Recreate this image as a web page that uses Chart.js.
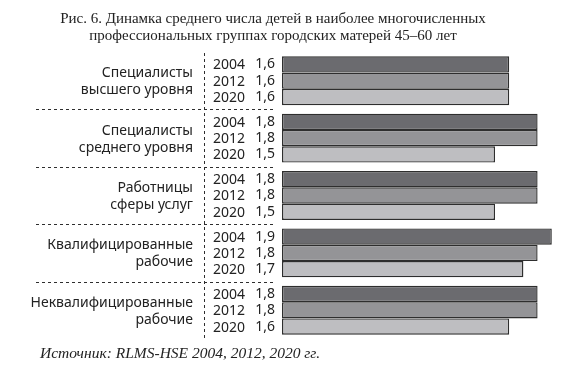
<!DOCTYPE html>
<html>
<head>
<meta charset="utf-8">
<script src="https://cdn.jsdelivr.net/npm/chart.js@4"></script>
<style>
  html, body { margin: 0; padding: 0; background: #fff; }
  #wrap { width: 566px; height: 386px; position: relative; }
</style>
</head>
<body>
<div id="wrap"><canvas id="chart"></canvas></div>
<script>
const titleLines = [
    'Рис. 6. Динамка среднего числа детей в наиболее многочисленных',
    'профессиональных группах городских матерей 45–60 лет'
];
const sourceText = 'Источник: RLMS-HSE 2004, 2012, 2020 гг.';

const categories = [
    ['Специалисты', 'высшего уровня'],
    ['Специалисты', 'среднего уровня'],
    ['Работницы', 'сферы услуг'],
    ['Квалифицированные', 'рабочие'],
    ['Неквалифицированные', 'рабочие']
];
const years = ['2004', '2012', '2020'];
const values2004 = [1.6, 1.8, 1.8, 1.9, 1.8];
const values2012 = [1.6, 1.8, 1.8, 1.8, 1.8];
const values2020 = [1.6, 1.5, 1.5, 1.7, 1.6];

const barColors = ['#6b6b6f', '#949497', '#bebec1'];
const textColor = '#222222';
const lineColor = '#2e2e2e';

const fmt = (v) => v.toFixed(1).replace('.', ',');

// text, year/value labels and dashed separators
const decorations = {
    id: 'decorations',
    afterDraw(chart) {
        const ctx = chart.ctx;
        const yScale = chart.scales.y;
        ctx.save();

        // title
        ctx.fillStyle = textColor;
        ctx.textAlign = 'center';
        ctx.textBaseline = 'alphabetic';
        ctx.font = '15px "Liberation Serif", serif';
        ctx.fillText(titleLines[0], 273, 23);
        ctx.fillText(titleLines[1], 273, 40);

        // source
        ctx.textAlign = 'left';
        ctx.font = 'italic 15.5px "Liberation Serif", serif';
        ctx.fillText(sourceText, 40, 358);

        // category labels
        ctx.font = '14px "Noto Sans", sans-serif';
        ctx.textAlign = 'right';
        ctx.textBaseline = 'middle';
        categories.forEach((lines, i) => {
            const cy = yScale.getPixelForValue(i) + 1;
            lines.forEach((line, j) => {
                ctx.fillText(line, 193, cy + (j - (lines.length - 1) / 2) * 17);
            });
        });

        // year and value labels next to bars
        chart.data.datasets.forEach((ds, d) => {
            const meta = chart.getDatasetMeta(d);
            meta.data.forEach((bar, i) => {
                ctx.textAlign = 'right';
                ctx.fillText(years[d], 245, bar.y + 1);
                ctx.fillText(fmt(ds.data[i]), 275, bar.y);
            });
        });

        // dashed separators
        ctx.strokeStyle = lineColor;
        ctx.lineWidth = 1;
        ctx.setLineDash([3, 3]);
        ctx.beginPath();
        ctx.moveTo(204.5, 53);
        ctx.lineTo(204.5, 338);
        for (let i = 0; i < categories.length - 1; i++) {
            const y = Math.round((yScale.getPixelForValue(i) + yScale.getPixelForValue(i + 1)) / 2) + 0.5;
            ctx.moveTo(36, y);
            ctx.lineTo(275, y);
        }
        ctx.stroke();
        ctx.restore();
    }
};

const makeSet = (label, data, color) => ({
    label: label,
    data: data,
    backgroundColor: color,
    borderColor: lineColor,
    borderWidth: 1.4,
    borderSkipped: false,
    barPercentage: 1,
    categoryPercentage: 0.852,
});

new Chart(document.getElementById('chart'), {
    type: 'bar',
    data: {
        labels: categories,
        datasets: [
            makeSet(years[0], values2004, barColors[0]),
            makeSet(years[1], values2012, barColors[1]),
            makeSet(years[2], values2020, barColors[2]),
        ],
    },
    options: {
        indexAxis: 'y',
        responsive: true,
        maintainAspectRatio: false,
        animation: false,
        layout: {
            padding: { left: 282, right: 0, top: 52, bottom: 47 },
        },
        scales: {
            x: {
                display: false,
                min: 0,
                max: 2,
            },
            y: {
                display: false,
            },
        },
        plugins: {
            legend: { display: false },
            tooltip: { enabled: false },
        },
    },
    plugins: [decorations],
});
</script>
</body>
</html>
